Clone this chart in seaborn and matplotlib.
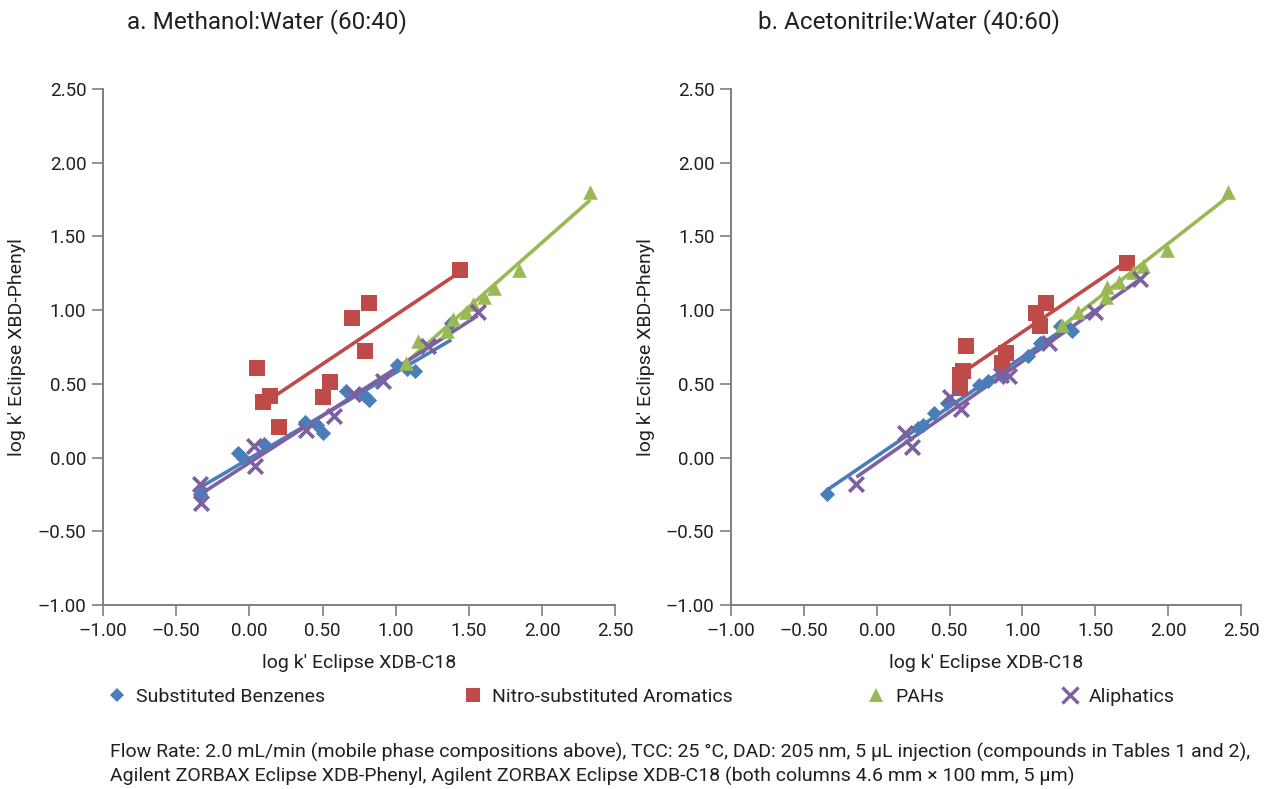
import numpy as np
import pandas as pd
import matplotlib
matplotlib.use('Agg')
import matplotlib.pyplot as plt
import seaborn as sns
from matplotlib.ticker import FuncFormatter, MultipleLocator
from matplotlib.lines import Line2D

sns.set_style('white')
plt.rcParams['font.family'] = ['Roboto', 'DejaVu Sans']

# a. Methanol:Water (60:40)
a_benz_x = [-0.34, -0.08, -0.04, 0.10, 0.38, 0.46, 0.50, 0.66, 0.79, 0.82, 1.01, 1.08, 1.13, 1.38]
a_benz_y = [-0.25, 0.03, 0.00, 0.09, 0.24, 0.22, 0.17, 0.45, 0.42, 0.39, 0.63, 0.60, 0.59, 0.91]
a_nitro_x = [0.05, 0.09, 0.14, 0.20, 0.50, 0.55, 0.70, 0.79, 0.82, 1.44]
a_nitro_y = [0.61, 0.38, 0.42, 0.21, 0.41, 0.51, 0.95, 0.72, 1.05, 1.27]
a_pah_x = [1.07, 1.15, 1.35, 1.39, 1.48, 1.53, 1.60, 1.67, 1.84, 2.33]
a_pah_y = [0.64, 0.79, 0.86, 0.94, 0.99, 1.04, 1.09, 1.15, 1.27, 1.80]
a_ali_x = [-0.34, -0.33, 0.03, 0.04, 0.39, 0.58, 0.71, 0.91, 1.22, 1.56]
a_ali_y = [-0.18, -0.31, 0.08, -0.06, 0.19, 0.28, 0.43, 0.52, 0.76, 0.99]

# b. Acetonitrile:Water (40:60)
b_benz_x = [-0.34, 0.28, 0.32, 0.39, 0.48, 0.70, 0.76, 0.85, 1.04, 1.12, 1.26, 1.34]
b_benz_y = [-0.25, 0.20, 0.22, 0.30, 0.37, 0.49, 0.52, 0.56, 0.69, 0.78, 0.89, 0.86]
b_nitro_x = [0.57, 0.57, 0.59, 0.61, 0.86, 0.89, 1.09, 1.12, 1.16, 1.72]
b_nitro_y = [0.47, 0.56, 0.59, 0.76, 0.64, 0.71, 0.98, 0.89, 1.05, 1.32]
b_pah_x = [1.27, 1.38, 1.57, 1.58, 1.66, 1.76, 1.83, 1.99, 2.41]
b_pah_y = [0.90, 0.99, 1.09, 1.16, 1.19, 1.26, 1.30, 1.41, 1.80]
b_ali_x = [-0.14, 0.19, 0.24, 0.50, 0.58, 0.85, 0.91, 1.18, 1.50, 1.81]
b_ali_y = [-0.18, 0.17, 0.07, 0.41, 0.33, 0.56, 0.55, 0.78, 0.99, 1.21]

groups = ['Substituted Benzenes', 'Nitro-substituted Aromatics', 'PAHs', 'Aliphatics']
colors = ['#4A7EBB', '#BE4B48', '#98B954', '#7D60A0']
markers = ['D', 's', '^', 'x']
msizes = [60, 130, 110, 110]

panels = [
    ('a. Methanol:Water (60:40)', [(a_benz_x, a_benz_y), (a_nitro_x, a_nitro_y), (a_pah_x, a_pah_y), (a_ali_x, a_ali_y)]),
    ('b. Acetonitrile:Water (40:60)', [(b_benz_x, b_benz_y), (b_nitro_x, b_nitro_y), (b_pah_x, b_pah_y), (b_ali_x, b_ali_y)]),
]

fig = plt.figure(figsize=(12.65, 7.89), dpi=100)
axes = [fig.add_axes([0.0814, 0.2332, 0.405, 0.654]),
        fig.add_axes([0.578, 0.2332, 0.403, 0.654])]

fmt = FuncFormatter(lambda v, p: f'{v:.2f}'.replace('-', '\u2013'))

for ax, (title, data) in zip(axes, panels):
    for (xs, ys), g, c, m, s in zip(data, groups, colors, markers, msizes):
        df = pd.DataFrame({'x': xs, 'y': ys})
        sns.regplot(data=df, x='x', y='y', ax=ax, ci=None, scatter=False,
                    line_kws={'color': c, 'lw': 2.6, 'solid_capstyle': 'butt'})
        if m == 'x':
            sns.scatterplot(data=df, x='x', y='y', ax=ax, marker='x', s=s,
                            color=c, linewidth=2.6, zorder=3)
        else:
            sns.scatterplot(data=df, x='x', y='y', ax=ax, marker=m, s=s,
                            color=c, linewidth=0, zorder=3)
    ax.set_xlim(-1, 2.5)
    ax.set_ylim(-1, 2.5)
    ax.xaxis.set_major_locator(MultipleLocator(0.5))
    ax.yaxis.set_major_locator(MultipleLocator(0.5))
    ax.xaxis.set_major_formatter(fmt)
    ax.yaxis.set_major_formatter(fmt)
    for side in ['top', 'right']:
        ax.spines[side].set_visible(False)
    for side in ['left', 'bottom']:
        ax.spines[side].set_color('#7f7f7f')
        ax.spines[side].set_linewidth(1.4)
    ax.tick_params(axis='both', direction='out', length=8, width=1.2,
                   color='#7f7f7f', labelsize=13.5, labelcolor='#231f20', pad=4,
                   bottom=True, left=True)
    ax.set_xlabel("log k' Eclipse XDB-C18", fontsize=14, color='#231f20', labelpad=10)
    ax.set_ylabel("log k' Eclipse XBD-Phenyl", fontsize=14, color='#231f20', labelpad=8)
    ax.grid(False)

fig.text(127 / 1265, 1 - 22 / 789, panels[0][0], fontsize=17.5, color='#231f20', va='center', ha='left')
fig.text(758 / 1265, 1 - 22 / 789, panels[1][0], fontsize=17.5, color='#231f20', va='center', ha='left')

# legend, one entry at a time to keep the original spacing
leg_x = [107, 463, 866, 1060]
for g, c, m, s, lx in zip(groups, colors, markers, msizes, leg_x):
    if m == 'x':
        h = Line2D([], [], ls='', marker='x', color=c, markersize=11, markeredgewidth=2.4)
    else:
        h = Line2D([], [], ls='', marker=m, color=c, markersize=np.sqrt(s) * 0.9, markeredgewidth=0)
    fig.legend(handles=[h], labels=[g], loc='center left',
               bbox_to_anchor=(lx / 1265, 1 - 697 / 789), frameon=False,
               fontsize=14, handlelength=1.0, handletextpad=0.5,
               borderaxespad=0, borderpad=0, labelcolor='#231f20')

fig.text(110 / 1265, 1 - 752 / 789,
         'Flow Rate: 2.0 mL/min (mobile phase compositions above), TCC: 25 \u00b0C, DAD: 205 nm, 5 \u00b5L injection (compounds in Tables 1 and 2),',
         fontsize=14, color='#231f20', va='center', ha='left')
fig.text(110 / 1265, 1 - 776 / 789,
         'Agilent ZORBAX Eclipse XDB-Phenyl, Agilent ZORBAX Eclipse XDB-C18 (both columns 4.6 mm \u00d7 100 mm, 5 \u00b5m)',
         fontsize=14, color='#231f20', va='center', ha='left')

fig.savefig('out.png', dpi=100)
